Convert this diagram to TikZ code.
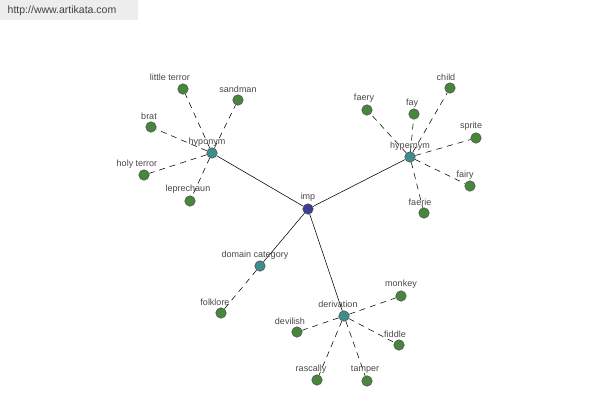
\documentclass[tikz,border=0pt]{standalone}
\usepackage{fontspec}
\setmainfont{Liberation Sans}
\definecolor{leafgreen}{RGB}{72,134,62}
\definecolor{hubteal}{RGB}{62,140,142}
\definecolor{rootblue}{RGB}{62,62,150}
\begin{document}
\begin{tikzpicture}[x=1pt,y=-1pt,
  dot/.style={circle,draw=black!70,line width=0.5pt,minimum size=10.5pt,inner sep=0pt},
  leaf/.style={dot,fill=leafgreen},
  hub/.style={dot,fill=hubteal},
  root/.style={dot,fill=rootblue},
  lbl/.style={font=\fontsize{9}{10}\selectfont,text=black!72,inner sep=0pt},
  solidedge/.style={draw=black,line width=0.55pt},
  dashedge/.style={draw=black,line width=0.55pt,dash pattern=on 6pt off 5pt}]
\useasboundingbox (0,0) rectangle (600,400);
\fill[black!7] (0,0) rectangle (138,20);
\node[font=\fontsize{10.5}{12}\selectfont,text=black!75,inner sep=0pt] (url) at (62,11) {http://www.artikata.com};
% nodes
\node[root] (imp) at (308,209) {};
\node[hub] (hypo) at (212,153) {};
\node[hub] (hyper) at (410,157) {};
\node[hub] (dom) at (260,266) {};
\node[hub] (der) at (344,316) {};
% hyponym leaves
\node[leaf] (lt) at (183,89) {};
\node[leaf] (sand) at (238,100) {};
\node[leaf] (brat) at (151,127) {};
\node[leaf] (holy) at (144,175) {};
\node[leaf] (lep) at (190,201) {};
% hypernym leaves
\node[leaf] (child) at (450,88) {};
\node[leaf] (faery) at (367,110) {};
\node[leaf] (fay) at (414,114) {};
\node[leaf] (sprite) at (476,138) {};
\node[leaf] (fairy) at (470,186) {};
\node[leaf] (faerie) at (424,213) {};
% domain
\node[leaf] (folk) at (221,313) {};
% derivation leaves
\node[leaf] (monkey) at (401,296) {};
\node[leaf] (devil) at (297,332) {};
\node[leaf] (fiddle) at (399,345) {};
\node[leaf] (rasc) at (317,380) {};
\node[leaf] (tamp) at (367,381) {};
% edges
\draw[solidedge] (imp) -- (hypo);
\draw[solidedge] (imp) -- (hyper);
\draw[solidedge] (imp) -- (dom);
\draw[solidedge] (imp) -- (der);
\foreach \l in {lt,sand,brat,holy,lep} \draw[dashedge] (hypo) -- (\l);
\foreach \l in {child,faery,fay,sprite,fairy,faerie} \draw[dashedge] (hyper) -- (\l);
\draw[dashedge] (dom) -- (folk);
\foreach \l in {monkey,devil,fiddle,rasc,tamp} \draw[dashedge] (der) -- (\l);
% labels
\node[lbl] (Limp) at (308,197) {imp};
\node[lbl] (Lhypo) at (207,142) {hyponym};
\node[lbl] (Lhyper) at (410,146) {hypernym};
\node[lbl] (Ldom) at (255,255) {domain category};
\node[lbl] (Lder) at (338,304) {derivation};
\node[lbl] (Llt) at (170,77) {little terror};
\node[lbl] (Lsand) at (238,89) {sandman};
\node[lbl] (Lbrat) at (149,116) {brat};
\node[lbl] (Lholy) at (137,164) {holy terror};
\node[lbl] (Llep) at (188,189) {leprechaun};
\node[lbl] (Lchild) at (446,77) {child};
\node[lbl] (Lfaery) at (364,98) {faery};
\node[lbl] (Lfay) at (412,103) {fay};
\node[lbl] (Lsprite) at (471,126) {sprite};
\node[lbl] (Lfairy) at (465,175) {fairy};
\node[lbl] (Lfaerie) at (420,202) {faerie};
\node[lbl] (Lfolk) at (215,302) {folklore};
\node[lbl] (Lmonkey) at (401,284) {monkey};
\node[lbl] (Ldevil) at (290,321) {devilish};
\node[lbl] (Lfiddle) at (395,334) {fiddle};
\node[lbl] (Lrasc) at (311,369) {rascally};
\node[lbl] (Ltamp) at (365,370) {tamper};
\end{tikzpicture}
\end{document}
